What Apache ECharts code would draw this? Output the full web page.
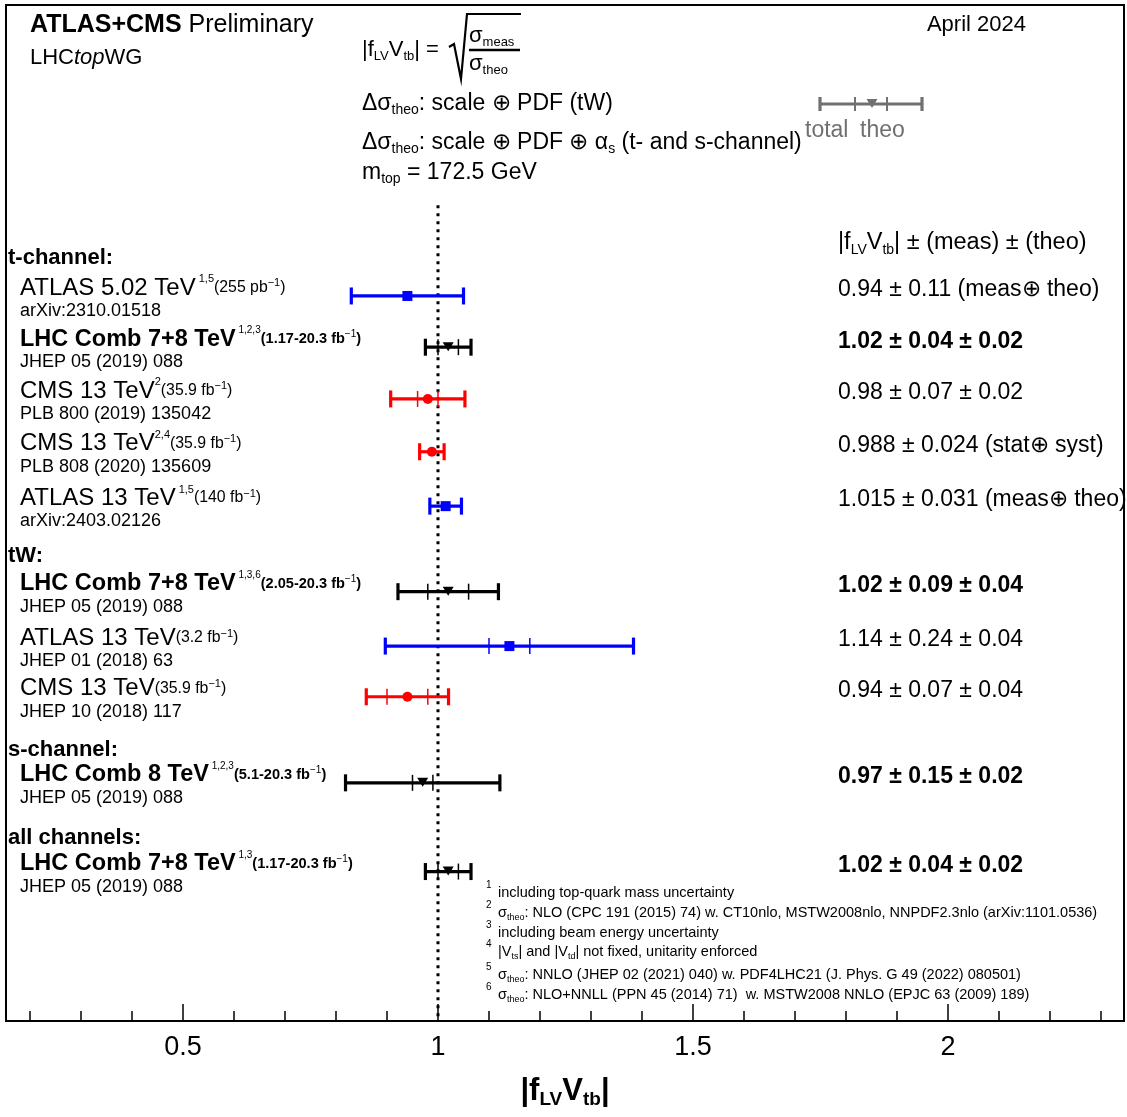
<!DOCTYPE html>
<html><head><meta charset="utf-8">
<script src="https://cdn.jsdelivr.net/npm/echarts@6/dist/echarts.min.js"></script>
<style>html,body{margin:0;padding:0;background:#fff}#c{width:1127px;height:1117px}</style>
</head><body><div id="c"></div>
<script>
// ---------------- data ----------------
const rowPos        = [0, 0.97, 1.95, 2.95, 3.98, 5.6, 6.63, 7.59, 9.22, 10.9];
const centralValues = [0.94, 1.02, 0.98, 0.988, 1.015, 1.02, 1.14, 0.94, 0.97, 1.02];
const measErrors    = [0.11, 0.04, 0.07, 0.024, 0.031, 0.09, 0.24, 0.07, 0.15, 0.04];
const theoErrors    = [null, 0.02, 0.02, null, null, 0.04, 0.04, 0.04, 0.02, 0.02];
const experiments   = ['ATLAS','LHC','CMS','CMS','ATLAS','LHC','ATLAS','CMS','LHC','LHC'];
const boldRows      = [false,true,false,false,false,true,false,false,true,true];
const mainLabels = [
  '{n|ATLAS 5.02 TeV}{sup| 1,5}{l|(255 pb}{lsup|−1}{l|)}',
  '{b|LHC Comb 7+8 TeV}{sup| 1,2,3}{lb|(1.17-20.3 fb}{lsup|−1}{lb|)}',
  '{n|CMS 13 TeV}{sup|2}{l|(35.9 fb}{lsup|−1}{l|)}',
  '{n|CMS 13 TeV}{sup|2,4}{l|(35.9 fb}{lsup|−1}{l|)}',
  '{n|ATLAS 13 TeV}{sup| 1,5}{l|(140 fb}{lsup|−1}{l|)}',
  '{b|LHC Comb 7+8 TeV}{sup| 1,3,6}{lb|(2.05-20.3 fb}{lsup|−1}{lb|)}',
  '{n|ATLAS 13 TeV}{l|(3.2 fb}{lsup|−1}{l|)}',
  '{n|CMS 13 TeV}{l|(35.9 fb}{lsup|−1}{l|)}',
  '{b|LHC Comb 8 TeV}{sup| 1,2,3}{lb|(5.1-20.3 fb}{lsup|−1}{lb|)}',
  '{b|LHC Comb 7+8 TeV}{sup| 1,3}{lb|(1.17-20.3 fb}{lsup|−1}{lb|)}'
];
const refLabels = ['arXiv:2310.01518','JHEP 05 (2019) 088','PLB 800 (2019) 135042','PLB 808 (2020) 135609',
  'arXiv:2403.02126','JHEP 05 (2019) 088','JHEP 01 (2018) 63','JHEP 10 (2018) 117','JHEP 05 (2019) 088','JHEP 05 (2019) 088'];
const resultLabels = ['0.94 ± 0.11 (meas⊕ theo)','1.02 ± 0.04 ± 0.02','0.98 ± 0.07 ± 0.02','0.988 ± 0.024 (stat⊕ syst)',
  '1.015 ± 0.031 (meas⊕ theo)','1.02 ± 0.09 ± 0.04','1.14 ± 0.24 ± 0.04','0.94 ± 0.07 ± 0.04','0.97 ± 0.15 ± 0.02','1.02 ± 0.04 ± 0.02'];
const sectionLabels = ['t-channel:','tW:','s-channel:','all channels:'];
const sectionPos    = [-0.72, 4.92, 8.6, 10.27];
const majorTicks = [0.5, 1, 1.5, 2];
const minorTicks = [0.2,0.3,0.4,0.6,0.7,0.8,0.9,1.1,1.2,1.3,1.4,1.6,1.7,1.8,1.9,2.1,2.2,2.3];
const footnotes = [
  'including top-quark mass uncertainty',
  '{n|σ}{sub|theo}{n|: NLO (CPC 191 (2015) 74) w. CT10nlo, MSTW2008nlo, NNPDF2.3nlo (arXiv:1101.0536)}',
  'including beam energy uncertainty',
  '{n||V}{sub|ts}{n|| and |V}{sub|td}{n|| not fixed, unitarity enforced}',
  '{n|σ}{sub|theo}{n|: NNLO (JHEP 02 (2021) 040) w. PDF4LHC21 (J. Phys. G 49 (2022) 080501)}',
  '{n|σ}{sub|theo}{n|: NLO+NNLL (PPN 45 (2014) 71)  w. MSTW2008 NNLO (EPJC 63 (2009) 189)}'
];
const footnoteY = [893, 913, 933, 952, 975, 995];

// ---------------- styles ----------------
const F = 'Liberation Sans';
const colorOf = {ATLAS:'#0000ff', CMS:'#ff0000', LHC:'#000000'};
function richFor(S){
  const s = Math.round(S*0.6), p = Math.round(S*0.44), l = S*0.66, lb = S*0.62;
  return {
    n:{fontFamily:F,fontSize:S,lineHeight:S+4},
    b:{fontFamily:F,fontSize:S,lineHeight:S+4,fontWeight:'bold'},
    i:{fontFamily:F,fontSize:S,lineHeight:S+4,fontStyle:'italic'},
    sub:{fontFamily:F,fontSize:s,lineHeight:s,verticalAlign:'bottom'},
    sup:{fontFamily:F,fontSize:p,lineHeight:p,verticalAlign:'top'},
    l:{fontFamily:F,fontSize:l,lineHeight:S+4},
    lb:{fontFamily:F,fontSize:lb,lineHeight:S+4,fontWeight:'bold'},
    lsup:{fontFamily:F,fontSize:p,lineHeight:p+4,verticalAlign:'top',padding:[4,0,0,0]}
  };
}
function txt(x, y, text, S, opt){
  opt = opt || {};
  if (text.indexOf('{') !== 0) text = '{' + (opt.tok || 'n') + '|' + text + '}';
  return {type:'text', x:x, y:y, silent:true, z:100,
    style:{text:text, rich:richFor(S), fontFamily:F, fontSize:S, fill:opt.color||'#000',
      align:opt.align||'left', verticalAlign:'middle'}};
}

// ---------------- series data ----------------
const barData = centralValues.map((v,i)=>{
  const t = theoErrors[i];
  const tot = t == null ? measErrors[i] : Math.sqrt(measErrors[i]*measErrors[i] + t*t);
  return [v, v-tot, v+tot, t==null ? v : v-t, t==null ? v : v+t, rowPos[i]];
});

const yMin = -5.51, yMax = 13.73, lineTop = -1.72;

const option = {
  animation:false,
  backgroundColor:'#fff',
  grid:{left:6, right:3, top:5, bottom:96, show:true, borderColor:'#000', borderWidth:2,
        backgroundColor:'transparent', containLabel:false, outerBoundsMode:'none'},
  xAxis:[{
    type:'value', min:0.153, max:2.345, position:'bottom',
    axisLine:{show:true, onZero:false, lineStyle:{color:'#000', width:2}},
    axisTick:{show:true, inside:true, length:17, customValues:majorTicks, lineStyle:{color:'#000', width:1.5}},
    axisLabel:{show:true, customValues:majorTicks, color:'#000', fontFamily:F, fontSize:27, margin:13,
      formatter:v=>String(v)},
    splitLine:{show:false},
    name:'{a||f}{s|LV}{a|V}{s|tb}{a||}', nameLocation:'middle', nameGap:52,
    nameTextStyle:{rich:{
      a:{fontFamily:F,fontSize:31,fontWeight:'bold',lineHeight:36,color:'#000'},
      s:{fontFamily:F,fontSize:19,fontWeight:'bold',lineHeight:19,verticalAlign:'bottom',color:'#000'}}}
  },{
    type:'value', min:0.153, max:2.345, position:'bottom',
    axisLine:{show:false, onZero:false},
    axisTick:{show:true, inside:true, length:10, customValues:minorTicks, lineStyle:{color:'#000', width:1.5}},
    axisLabel:{show:false}, splitLine:{show:false}
  }],
  yAxis:{type:'value', inverse:true, min:yMin, max:yMax, show:false, splitLine:{show:false}},
  series:[{
    type:'line', xAxisIndex:0, data:[[1, lineTop],[1, yMax]], symbol:'none', silent:true,
    lineStyle:{color:'#000', width:3, type:[3,5]}
  },{
    type:'custom', xAxisIndex:0, data:barData, encode:{x:[0,1,2], y:5}, silent:true, z:5,
    renderItem:function(params, api){
      const i = params.dataIndex;
      const r = api.value(5);
      const c = api.coord([api.value(0), r]);
      const lo = api.coord([api.value(1), r])[0], hi = api.coord([api.value(2), r])[0];
      const y = c[1], x = c[0];
      const col = colorOf[experiments[i]];
      const ch = [
        {type:'line', shape:{x1:lo,y1:y,x2:hi,y2:y}, style:{stroke:col,lineWidth:3.2}},
        {type:'line', shape:{x1:lo,y1:y-8.5,x2:lo,y2:y+8.5}, style:{stroke:col,lineWidth:3.2}},
        {type:'line', shape:{x1:hi,y1:y-8.5,x2:hi,y2:y+8.5}, style:{stroke:col,lineWidth:3.2}}
      ];
      if (theoErrors[i] != null){
        const tl = api.coord([api.value(3), r])[0], th = api.coord([api.value(4), r])[0];
        ch.push({type:'line', shape:{x1:tl,y1:y-8,x2:tl,y2:y+8}, style:{stroke:col,lineWidth:1.5}});
        ch.push({type:'line', shape:{x1:th,y1:y-8,x2:th,y2:y+8}, style:{stroke:col,lineWidth:1.5}});
      }
      if (experiments[i]==='ATLAS') ch.push({type:'rect', shape:{x:x-5,y:y-5,width:10,height:10}, style:{fill:col}});
      else if (experiments[i]==='CMS') ch.push({type:'circle', shape:{cx:x,cy:y,r:5}, style:{fill:col}});
      else ch.push({type:'polygon', shape:{points:[[x-5.5,y-5],[x+5.5,y-5],[x,y+4]]}, style:{fill:col}});
      return {type:'group', children:ch};
    }
  }]
};

const chart = echarts.init(document.getElementById('c'), null, {renderer:'canvas'});
chart.setOption(option);

const yPix = v => chart.convertToPixel({yAxisIndex:0}, v);
const G = [];
// header
G.push(txt(30, 25, '{b|ATLAS+CMS}{n| Preliminary}', 25));
G.push(txt(30, 58, '{n|LHC}{i|top}{n|WG}', 22));
G.push(txt(1026, 25, 'April 2024', 22, {align:'right'}));
G.push(txt(362, 50, '{n||f}{sub|LV}{n|V}{sub|tb}{n|| =}', 22));
G.push(txt(469, 36, '{n|σ}{sub|meas}', 22));
G.push(txt(469, 64, '{n|σ}{sub|theo}', 22));
G.push({type:'polyline', silent:true, shape:{points:[[449,47],[454,44],[461,79],[467,14],[521,14]]},
  style:{stroke:'#000', lineWidth:2.2, fill:null}});
G.push({type:'line', silent:true, shape:{x1:469,y1:50,x2:520,y2:50}, style:{stroke:'#000', lineWidth:2.5}});
G.push(txt(362, 104, '{n|Δσ}{sub|theo}{n|: scale ⊕ PDF (tW)}', 23));
G.push(txt(362, 143, '{n|Δσ}{sub|theo}{n|: scale ⊕ PDF ⊕ α}{sub|s}{n| (t- and s-channel)}', 23));
G.push(txt(362, 173, '{n|m}{sub|top}{n| = 172.5 GeV}', 23));
// legend key (total / theo)
const gc = '#707070';
G.push({type:'line', silent:true, shape:{x1:820,y1:104,x2:922,y2:104}, style:{stroke:gc,lineWidth:3.2}});
[820, 922].forEach(xx=>G.push({type:'line', silent:true, shape:{x1:xx,y1:97,x2:xx,y2:111}, style:{stroke:gc,lineWidth:3.2}}));
[855, 887].forEach(xx=>G.push({type:'line', silent:true, shape:{x1:xx,y1:97,x2:xx,y2:111}, style:{stroke:gc,lineWidth:2}}));
G.push({type:'polygon', silent:true, shape:{points:[[866.5,99],[877.5,99],[872,108]]}, style:{fill:gc}});
G.push(txt(805, 131, 'total', 23, {color:gc}));
G.push(txt(860, 131, 'theo', 23, {color:gc}));
// column header
G.push(txt(838, 243, '{n||f}{sub|LV}{n|V}{sub|tb}{n|| ± (meas) ± (theo)}', 23.5));
// sections
sectionLabels.forEach((s,k)=>G.push(txt(8, yPix(sectionPos[k]), s, 22, {tok:'b'})));
// rows
rowPos.forEach((r,i)=>{
  const yp = yPix(r);
  G.push(txt(20, yp-8, mainLabels[i], boldRows[i] ? 23.5 : 24));
  G.push(txt(20, yp+15, refLabels[i], 18));
  G.push(txt(838, yp-6, resultLabels[i], 23, {tok: boldRows[i] ? 'b' : 'n'}));
});
// footnotes
footnotes.forEach((f,k)=>{
  G.push(txt(486, footnoteY[k]-8, String(k+1), 10));
  G.push(txt(498, footnoteY[k], f, 14.5));
});
chart.setOption({graphic:G});
</script></body></html>
